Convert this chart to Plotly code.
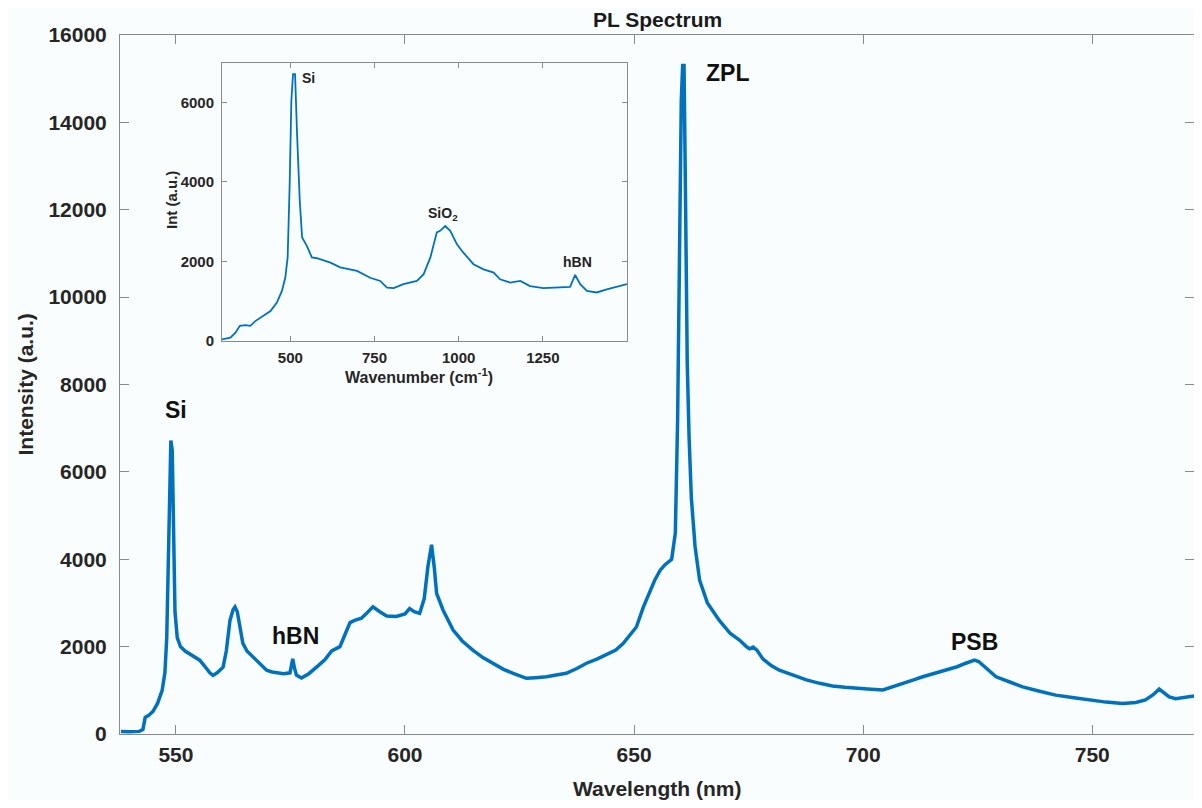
import plotly.graph_objects as go

# ---- Main PL spectrum (wavelength nm, intensity a.u.) ----
wavelength = [538.0, 540.0, 542.0, 542.8, 543.3, 544.0, 545.0, 546.0, 547.0, 547.6,
              548.0, 548.3, 548.6, 548.9, 549.2, 549.5, 549.8, 550.3, 551.0, 552.0,
              553.0, 554.0, 555.2, 556.3, 557.4, 558.1, 559.0, 560.3, 561.0, 561.8,
              562.5, 562.9, 563.4, 563.9, 564.6, 565.5, 566.8, 568.3, 569.8, 571.0,
              572.0, 573.5, 574.9, 575.2, 575.5, 575.9, 576.3, 577.4, 579.0, 580.7,
              582.5, 584.0, 585.8, 587.0, 588.0, 589.0, 590.5, 591.5, 593.0, 594.5,
              596.0, 598.1, 600.0, 601.0, 602.0, 603.2, 604.2, 605.0, 605.8, 606.4,
              606.9, 608.3, 610.5, 612.5, 614.8, 617.0, 619.2, 621.5, 623.6, 626.5,
              628.5, 630.9, 633.0, 635.2, 637.5, 639.6, 642.0, 644.0, 646.0, 647.6,
              649.0, 650.5, 652.0, 653.5, 654.5, 655.7, 656.7, 658.2, 659.0, 659.5,
              660.0, 660.3, 660.6, 660.9, 661.2, 661.6, 662.0, 662.5, 663.3, 664.3,
              666.0, 668.6, 671.0, 673.0, 674.5, 675.2, 676.0, 676.8, 678.1, 680.0,
              681.7, 684.5, 687.6, 690.5, 693.3, 696.0, 698.4, 701.0, 704.3, 706.5,
              708.6, 711.0, 713.0, 715.5, 718.1, 720.5, 722.4, 724.3, 725.2, 726.1,
              727.5, 729.0, 732.0, 734.8, 738.5, 742.0, 746.0, 749.3, 753.0, 756.6,
              759.5, 761.6, 763.3, 764.6, 765.4, 766.8, 768.2, 770.0, 772.2]
intensity = [60, 50, 60, 100, 380, 420, 520, 700, 1000, 1400,
             2200, 3500, 5200, 6720, 6500, 4500, 2800, 2200, 2000, 1900,
             1830, 1750, 1690, 1550, 1400, 1340, 1400, 1530, 1900, 2600,
             2850, 2910, 2800, 2500, 2080, 1900, 1760, 1600, 1460, 1420,
             1400, 1380, 1400, 1600, 1720, 1500, 1350, 1280, 1380, 1530,
             1700, 1900, 2000, 2300, 2550, 2600, 2650, 2750, 2910, 2800,
             2700, 2690, 2750, 2870, 2800, 2760, 3100, 3830, 4330, 3800,
             3220, 2840, 2380, 2130, 1920, 1750, 1620, 1480, 1390, 1275,
             1290, 1310, 1350, 1390, 1500, 1620, 1720, 1810, 1920, 2070,
             2250, 2450, 2900, 3300, 3520, 3750, 3870, 4000, 4600, 7200,
             11500, 14500, 15300, 15300, 12500, 8500, 6800, 5400, 4300, 3520,
             3000, 2600, 2300, 2150, 2000, 1950, 1990, 1920, 1720, 1560,
             1460, 1350, 1240, 1160, 1100, 1070, 1045, 1030, 1010, 1080,
             1160, 1240, 1310, 1390, 1460, 1540, 1620, 1690, 1660, 1580,
             1450, 1310, 1190, 1080, 980, 890, 830, 780, 730, 700,
             720, 780, 900, 1030, 960, 850, 810, 840, 870]

# ---- Inset Raman spectrum (wavenumber cm-1, intensity a.u.) ----
wavenumber = [297, 322, 337, 350, 366, 381, 396, 421, 441, 460,
              475, 485, 492, 498, 503, 508, 514, 520, 528, 535,
              549, 564, 579, 619, 648, 698, 737, 767, 787, 807,
              836, 876, 896, 916, 935, 945, 960, 975, 995, 1014,
              1044, 1074, 1104, 1123, 1153, 1183, 1212, 1252, 1291, 1331,
              1346, 1361, 1381, 1410, 1440, 1470, 1500]
inset_int = [40, 84, 210, 380, 400, 380, 500, 630, 755, 965,
             1260, 1590, 2100, 3940, 6040, 6710, 6710, 5200, 3520, 2600,
             2390, 2100, 2080, 1970, 1850, 1760, 1590, 1510, 1340, 1330,
             1430, 1510, 1680, 2100, 2730, 2770, 2890, 2770, 2430, 2220,
             1930, 1800, 1720, 1550, 1470, 1510, 1380, 1330, 1340, 1360,
             1660, 1430, 1260, 1220, 1300, 1360, 1430]

main_xticks = [550, 600, 650, 700, 750]
main_yticks = [0, 2000, 4000, 6000, 8000, 10000, 12000, 14000, 16000]
inset_xticks = [500, 750, 1000, 1250]
inset_yticks = [0, 2000, 4000, 6000]

main_labels = [("Si", 550.0, 7420), ("hBN", 576.2, 2240), ("ZPL", 670.3, 15130), ("PSB", 724.3, 2110)]
inset_labels = [("Si", 553, 6600), ("SiO<sub>2</sub>", 954, 3200), ("hBN", 1352, 1990)]

BLUE = "#0072BD"
AX = "#8a8a8a"
FONT = "Liberation Sans, Arial, sans-serif"
BG = "#fafdfd"

fig = go.Figure()
fig.add_trace(go.Scatter(x=wavelength, y=intensity, mode="lines",
                         line=dict(color=BLUE, width=3.5), xaxis="x", yaxis="y",
                         showlegend=False, hoverinfo="skip"))
fig.add_trace(go.Scatter(x=wavenumber, y=inset_int, mode="lines",
                         line=dict(color=BLUE, width=1.8), xaxis="x2", yaxis="y2",
                         showlegend=False, hoverinfo="skip"))

# page body has an 8px margin; plot area targets x 120..1195, y 35..734 on screen
W, H = 1186, 792
L, T = 112, 27
PW, PH = 1074, 699
R, B = W - L - PW, H - T - PH

ix0, ix1 = (222 - 120) / PW, (627 - 120) / PW
iy0, iy1 = (734 - 341) / PH, (734 - 62.5) / PH

tickf = dict(family=FONT, size=21, color="#262626", weight="bold")
itickf = dict(family=FONT, size=15, color="#262626", weight="bold")

fig.update_layout(
    width=W, height=H,
    margin=dict(l=L, r=R, t=T, b=B, autoexpand=False),
    paper_bgcolor=BG, plot_bgcolor=BG,
    showlegend=False,
    xaxis=dict(range=[537.8, 772.2], tickvals=main_xticks, ticktext=[str(v) for v in main_xticks],
               ticks="inside", ticklen=9,
               tickcolor=AX, showline=True, linecolor=AX, linewidth=1, mirror="allticks",
               showgrid=False, zeroline=False, tickfont=tickf, ticklabelstandoff=2,
               automargin=False),
    yaxis=dict(range=[0, 16000], tickvals=main_yticks, ticktext=[str(v) for v in main_yticks],
               ticks="inside", ticklen=9,
               tickcolor=AX, showline=True, linecolor=AX, linewidth=1, mirror="allticks",
               showgrid=False, zeroline=False, tickfont=tickf, ticklabelstandoff=8,
               automargin=False),
    xaxis2=dict(domain=[ix0, ix1], anchor="y2", range=[297, 1500], tickvals=inset_xticks,
                ticktext=[str(v) for v in inset_xticks],
                ticks="inside", ticklen=5, tickcolor=AX, showline=True, linecolor=AX,
                linewidth=1, mirror="allticks", showgrid=False, zeroline=False,
                tickfont=itickf, ticklabelstandoff=3, automargin=False),
    yaxis2=dict(domain=[iy0, iy1], anchor="x2", range=[0, 7000], tickvals=inset_yticks,
                ticktext=[str(v) for v in inset_yticks],
                ticks="inside", ticklen=5, tickcolor=AX, showline=True, linecolor=AX,
                linewidth=1, mirror="allticks", showgrid=False, zeroline=False,
                tickfont=itickf, ticklabelstandoff=4, automargin=False),
)

fig.add_shape(type="rect", xref="paper", yref="paper", x0=ix0, x1=ix1, y0=iy0, y1=iy1,
              fillcolor=BG, line=dict(width=0), layer="below")

ann = []
ann.append(dict(text="<b>PL Spectrum</b>", xref="paper", yref="paper", x=0.5, y=1,
                xanchor="center", yanchor="middle", yshift=16, showarrow=False,
                font=dict(family=FONT, size=21, color="#1a1a1a")))
ann.append(dict(text="<b>Wavelength (nm)</b>", xref="paper", yref="paper", x=0.5, y=0,
                xanchor="center", yanchor="middle", yshift=-54, showarrow=False,
                font=dict(family=FONT, size=21, color="#262626")))
ann.append(dict(text="<b>Intensity (a.u.)</b>", xref="paper", yref="paper", x=0, y=0.5,
                xanchor="center", yanchor="middle", xshift=-95, textangle=-90, showarrow=False,
                font=dict(family=FONT, size=21, color="#262626")))
ann.append(dict(text="<b>Wavenumber (cm<sup>-1</sup>)</b>", xref="paper", yref="paper",
                x=(ix0 + ix1) / 2, y=iy0, xanchor="center", yanchor="middle",
                yshift=-35, xshift=-5, showarrow=False,
                font=dict(family=FONT, size=16, color="#262626")))
ann.append(dict(text="<b>Int (a.u.)</b>", xref="paper", yref="paper", x=ix0,
                y=(734 - 200) / PH, xanchor="center", yanchor="middle", xshift=-51,
                textangle=-90, showarrow=False,
                font=dict(family=FONT, size=15, color="#262626")))
for t, xv, yv in main_labels:
    ann.append(dict(text="<b>%s</b>" % t, x=xv, y=yv, xref="x", yref="y", showarrow=False,
                    xanchor="center", yanchor="middle",
                    font=dict(family=FONT, size=23, color="#111111")))
for t, xv, yv in inset_labels:
    ann.append(dict(text="<b>%s</b>" % t, x=xv, y=yv, xref="x2", yref="y2", showarrow=False,
                    xanchor="center", yanchor="middle",
                    font=dict(family=FONT, size=14, color="#222222")))
fig.update_layout(annotations=ann)

fig.write_html("out.html")
